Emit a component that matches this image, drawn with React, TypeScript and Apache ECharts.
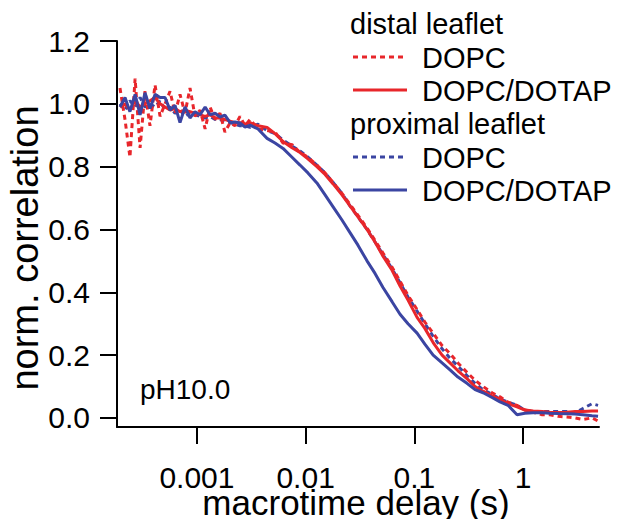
import React, { useEffect, useRef } from 'react';
import * as echarts from 'echarts';

const FONT = '"Liberation Sans", Arial, Helvetica, sans-serif';
const RED = '#E8262B';
const BLUE = '#3B45A2';

// macrotime delay (s)
const times = [
  1.96e-4, 2.18e-4, 2.42e-4, 2.70e-4, 3.00e-4, 3.33e-4, 3.70e-4, 4.12e-4, 4.58e-4, 5.09e-4,
  5.66e-4, 6.29e-4, 6.99e-4, 7.77e-4, 8.64e-4, 9.60e-4, 1.07e-3, 1.19e-3, 1.32e-3, 1.47e-3,
  1.63e-3, 1.81e-3, 2.02e-3, 2.24e-3, 2.49e-3, 2.77e-3, 3.08e-3, 3.65e-3, 4.42e-3, 5.23e-3,
  6.20e-3, 7.50e-3, 8.88e-3, 0.0105, 0.0127, 0.0151, 0.0179, 0.0216, 0.0256, 0.0303,
  0.0367, 0.0435, 0.0515, 0.0624, 0.0739, 0.0875, 0.106, 0.125, 0.149, 0.180,
  0.213, 0.252, 0.305, 0.362, 0.429, 0.519, 0.614, 0.728, 0.881, 1.04,
  1.24, 1.50, 1.77, 2.10, 2.54, 3.01, 3.56, 4.31, 4.90,
];

// distal leaflet, DOPC (dashed red)
const distalDOPC = [
  1.05, 0.95, 0.83, 1.08, 0.86, 1.04, 0.93, 1.06, 0.96, 1.00,
  1.04, 0.97, 1.03, 0.97, 1.05, 0.96, 0.98, 0.92, 0.99, 0.95,
  0.97, 0.91, 0.94, 0.93, 0.96, 0.93, 0.95, 0.92, 0.915, 0.91,
  0.875, 0.87, 0.845, 0.83, 0.805, 0.78, 0.75, 0.715, 0.68, 0.645,
  0.605, 0.565, 0.525, 0.48, 0.435, 0.39, 0.345, 0.305, 0.27, 0.23,
  0.205, 0.175, 0.145, 0.12, 0.10, 0.08, 0.067, 0.05, 0.04, 0.025,
  0.018, 0.01, 0.01, 0.005, 0.003, 0.0, -0.005, 0.0, -0.01,
];

// distal leaflet, DOPC/DOTAP (solid red)
const distalDOTAP = [
  0.99, 1.00, 0.98, 1.01, 0.99, 1.00, 1.01, 1.02, 1.00, 0.99,
  0.98, 0.985, 0.975, 0.98, 0.975, 0.97, 0.965, 0.96, 0.965, 0.955,
  0.955, 0.95, 0.945, 0.94, 0.94, 0.935, 0.94, 0.93, 0.925, 0.905,
  0.88, 0.86, 0.845, 0.825, 0.80, 0.775, 0.745, 0.71, 0.675, 0.64,
  0.60, 0.56, 0.515, 0.47, 0.42, 0.375, 0.32, 0.285, 0.24, 0.20,
  0.175, 0.15, 0.125, 0.10, 0.085, 0.07, 0.06, 0.045, 0.035, 0.025,
  0.022, 0.02, 0.018, 0.017, 0.018, 0.02, 0.02, 0.022, 0.022,
];

// proximal leaflet, DOPC (dashed blue)
const proximalDOPC = [
  1.00, 0.98, 1.01, 0.99, 1.02, 0.99, 1.00, 0.99, 1.01, 0.98,
  0.99, 0.97, 0.98, 0.96, 0.97, 0.965, 0.96, 0.955, 0.96, 0.95,
  0.95, 0.945, 0.94, 0.935, 0.93, 0.93, 0.925, 0.935, 0.915, 0.905,
  0.885, 0.865, 0.85, 0.83, 0.805, 0.78, 0.75, 0.715, 0.675, 0.64,
  0.60, 0.56, 0.52, 0.475, 0.43, 0.385, 0.34, 0.30, 0.26, 0.22,
  0.19, 0.165, 0.135, 0.11, 0.09, 0.075, 0.06, 0.05, 0.04, 0.025,
  0.02, 0.02, 0.02, 0.02, 0.02, 0.015, 0.03, 0.045, 0.04,
];

// proximal leaflet, DOPC/DOTAP (solid blue)
const proximalDOTAP = [
  0.99, 1.02, 0.975, 1.03, 0.965, 1.035, 0.985, 1.03, 1.02, 1.02,
  0.98, 0.995, 0.94, 0.99, 0.955, 0.975, 0.965, 0.99, 0.965, 0.97,
  0.958, 0.964, 0.94, 0.942, 0.939, 0.926, 0.932, 0.92, 0.89, 0.875,
  0.858, 0.83, 0.805, 0.78, 0.748, 0.71, 0.672, 0.63, 0.59, 0.55,
  0.50, 0.46, 0.415, 0.37, 0.33, 0.30, 0.27, 0.235, 0.20, 0.175,
  0.153, 0.13, 0.11, 0.09, 0.08, 0.065, 0.051, 0.04, 0.01, 0.015,
  0.016, 0.016, 0.015, 0.014, 0.013, 0.012, 0.01, 0.007, 0.005,
];

const xTickValues = [0.001, 0.01, 0.1, 1];
const xTickLabels = ['0.001', '0.01', '0.1', '1'];
const yTickValues = [0, 0.2, 0.4, 0.6, 0.8, 1.0, 1.2];

const legendHeaders = ['distal leaflet', 'proximal leaflet'];
const legendItems = ['DOPC', 'DOPC/DOTAP', 'DOPC', 'DOPC/DOTAP'];

const zip = (ys: number[]) => times.map((t, i) => [t, ys[i]]);

export default function App() {
  const ref = useRef<HTMLDivElement>(null);
  useEffect(() => {
    const chart = echarts.init(ref.current!, null, { renderer: 'svg' });
    const txt = (text: string, size: number, align: string) => ({
      text,
      fontSize: size,
      fontFamily: FONT,
      fill: '#000',
      align,
      verticalAlign: 'middle',
      textAlign: align,
      textVerticalAlign: 'middle',
    });
    const legendRowsY = [24, 58, 91, 124, 158, 191];
    const graphic: any[] = [
      { type: 'text', x: 350, y: legendRowsY[0], style: txt(legendHeaders[0], 29, 'left') },
      { type: 'text', x: 350, y: legendRowsY[3], style: txt(legendHeaders[1], 29, 'left') },
    ];
    const itemRows = [1, 2, 4, 5];
    const itemColors = [RED, RED, BLUE, BLUE];
    const itemDash: any[] = [[5, 4], null, [5, 4], null];
    itemRows.forEach((r, i) => {
      const ly = legendRowsY[r] - 1;
      graphic.push({
        type: 'line',
        shape: { x1: 353, y1: ly, x2: 407, y2: ly },
        style: { stroke: itemColors[i], lineWidth: 3, lineDash: itemDash[i] || undefined },
      });
      graphic.push({ type: 'text', x: 422, y: legendRowsY[r], style: txt(legendItems[i], 29, 'left') });
    });
    graphic.push({ type: 'text', x: 140, y: 389, style: txt('pH10.0', 28, 'left') });
    graphic.push({ type: 'text', x: 25, y: 248, rotation: Math.PI / 2, style: txt('norm. correlation', 38, 'center') });
    graphic.push({ type: 'text', x: 356, y: 502, style: txt('macrotime delay (s)', 35, 'center') });

    const mk = (name: string, ys: number[], color: string, dashed: boolean, z: number) => ({
      name,
      type: 'line',
      data: zip(ys),
      showSymbol: false,
      symbol: 'none',
      z,
      lineStyle: { color, width: 3, type: dashed ? [5, 4] : 'solid' },
      itemStyle: { color },
    });

    chart.setOption({
      animation: false,
      backgroundColor: '#fff',
      grid: { left: 117, right: 18, top: 41, bottom: 92, containLabel: false, outerBoundsMode: 'none' },
      xAxis: {
        type: 'log',
        logBase: 10,
        min: 1.84e-4,
        max: 5,
        axisLine: { show: true, onZero: false, lineStyle: { color: '#000', width: 2 } },
        axisTick: { show: true, length: 17, inside: false, customValues: xTickValues, lineStyle: { color: '#000', width: 2 } },
        minorTick: { show: false },
        axisLabel: {
          customValues: xTickValues,
          formatter: (v: number) => {
            let best = 0;
            xTickValues.forEach((t, i) => {
              if (Math.abs(Math.log10(t) - Math.log10(v)) < Math.abs(Math.log10(xTickValues[best]) - Math.log10(v))) best = i;
            });
            return xTickLabels[best];
          },
          fontSize: 30,
          fontFamily: FONT,
          color: '#000',
          margin: 35,
        },
        splitLine: { show: false },
      },
      yAxis: {
        type: 'value',
        min: -0.029,
        max: 1.2,
        axisLine: { show: true, onZero: false, lineStyle: { color: '#000', width: 2 } },
        axisTick: { show: true, length: 17, inside: false, customValues: yTickValues, lineStyle: { color: '#000', width: 2 } },
        axisLabel: {
          customValues: yTickValues,
          formatter: (v: number) => v.toFixed(1),
          fontSize: 30,
          fontFamily: FONT,
          color: '#000',
          margin: 27,
        },
        splitLine: { show: false },
      },
      series: [
        mk('proximal DOPC', proximalDOPC, BLUE, true, 2),
        mk('distal DOPC', distalDOPC, RED, true, 3),
        mk('distal DOPC/DOTAP', distalDOTAP, RED, false, 4),
        mk('proximal DOPC/DOTAP', proximalDOTAP, BLUE, false, 5),
      ],
      graphic,
    });
    return () => chart.dispose();
  }, []);
  return <div ref={ref} style={{ position: 'absolute', left: 0, top: 0, width: 617, height: 519 }} />;
}
